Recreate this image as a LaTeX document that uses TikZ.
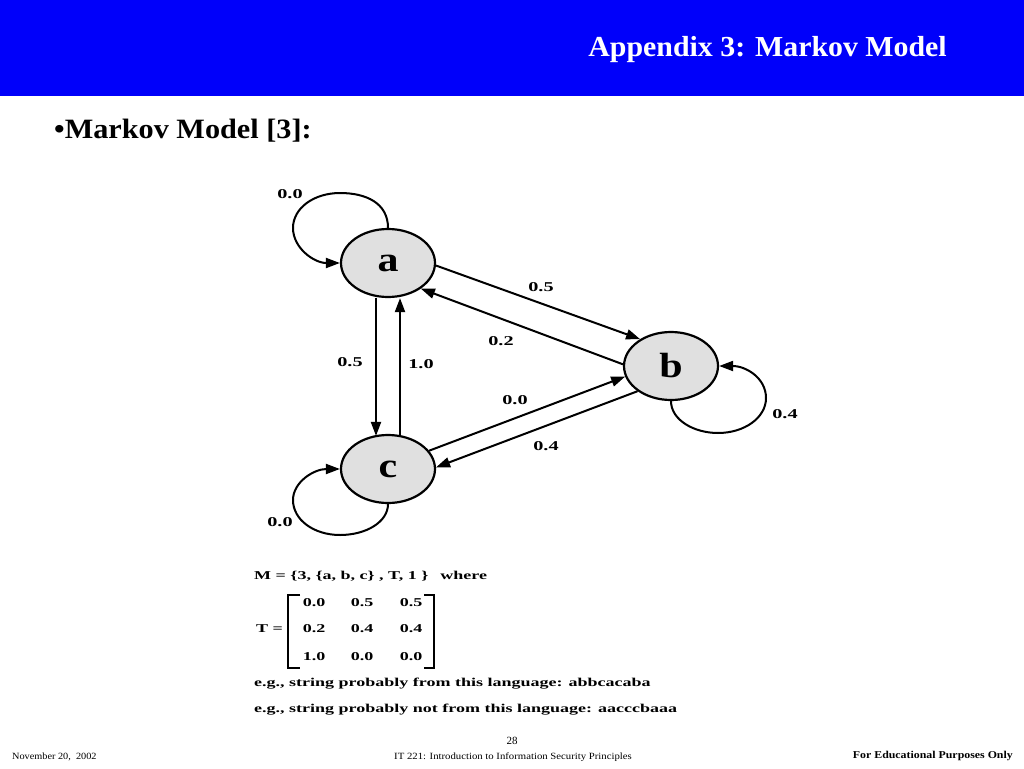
\documentclass[tikz,border=0pt]{standalone}
\usepackage{fontspec}
\usepackage{graphicx}
\setmainfont{Liberation Serif}
\usetikzlibrary{shapes.geometric,arrows.meta}
\definecolor{hdrblue}{RGB}{0,0,250}
\definecolor{nodegray}{RGB}{224,224,224}
\newcommand{\wide}[2]{\scalebox{#1}[1]{#2}}
\tikzset{
  state/.style={ellipse,draw,line width=2.2pt,fill=nodegray,minimum width=94pt,minimum height=68pt,inner sep=0pt,font=\fontsize{35}{35}\selectfont\bfseries},
  edge/.style={line width=2pt,-{Triangle[length=14pt,width=10pt]}},
  elabel/.style={font=\fontsize{13.5}{16}\selectfont\bfseries,inner sep=0pt},
  txt/.style={font=\fontsize{12}{14}\selectfont\bfseries,inner sep=0pt},
  foot/.style={font=\fontsize{9.5}{11}\selectfont,inner sep=0pt},
  brk/.style={line width=1.2pt}
}
\begin{document}
\begin{tikzpicture}[x=1pt,y=1pt]
\useasboundingbox (0,0) rectangle (1024,-768);
\fill[white] (0,0) rectangle (1024,-768);
\fill[hdrblue] (0,0) rectangle (1024,-96);
\node[text=white,font=\fontsize{29}{32}\selectfont\bfseries,anchor=east,inner sep=0pt] (title) at (947,-50) {\wide{1.03}{Appendix 3: Markov Model}};
\node[font=\fontsize{28}{32}\selectfont\bfseries,anchor=west,inner sep=0pt] (bul) at (54,-131) {\wide{1.08}{\textbullet Markov Model [3]:}};

\node[state] (a) at (388,-263) {\wide{1.2}{a}};
\node[state] (b) at (671,-366) {\wide{1.2}{b}};
\node[state] (c) at (388,-469) {\wide{1.2}{c}};

% self loops
\draw[edge] (a.north) .. controls (388,-203) and (366,-193) .. (340,-193)
  .. controls (314,-193) and (293,-208) .. (293,-228)
  .. controls (293,-248) and (314,-263) .. (a.west);
\draw[edge] (c.south) .. controls (388,-522) and (366,-535) .. (340,-535)
  .. controls (314,-535) and (293,-520) .. (293,-500)
  .. controls (293,-482) and (314,-469) .. (c.west);
\draw[edge] (b.south) .. controls (671,-420) and (694,-433) .. (718,-433)
  .. controls (744,-433) and (766,-418) .. (766,-398)
  .. controls (766,-378) and (746,-366) .. (b.east);

% edges
\draw[edge] ([xshift=-12pt]a.south) -- ([xshift=-12pt,yshift=-2pt]c.north);
\draw[edge] ([xshift=12pt,yshift=-2pt]c.north) -- ([xshift=12pt]a.south);
\draw[edge] (a.-3) -- (b.139);
\draw[edge] (b.178) -- (a.-38);
\draw[edge] (c.24) -- (b.193);
\draw[edge] (b.217) -- (c.2);

% edge labels
\node[elabel] (la) at (290,-194) {\wide{1.5}{0.0}};
\node[elabel] (lab) at (541,-287) {\wide{1.5}{0.5}};
\node[elabel] (lba) at (501,-341) {\wide{1.5}{0.2}};
\node[elabel] (lac) at (350,-362) {\wide{1.5}{0.5}};
\node[elabel] (lca) at (421,-364) {\wide{1.5}{1.0}};
\node[elabel] (lb) at (785,-414) {\wide{1.5}{0.4}};
\node[elabel] (lcb) at (515,-400) {\wide{1.5}{0.0}};
\node[elabel] (lbc) at (546,-446) {\wide{1.5}{0.4}};
\node[elabel] (lc) at (280,-522) {\wide{1.5}{0.0}};

% definition text
\node[txt,anchor=west] (m) at (254,-576) {\wide{1.5}{M = \{3, \{a, b, c\} , T, 1 \}\hspace{8pt}where}};
\node[txt,anchor=east] (teq) at (283,-629) {\wide{1.5}{T =}};
\draw[brk] (300,-595) -- (288,-595) -- (288,-668) -- (300,-668);
\draw[brk] (424,-595) -- (434,-595) -- (434,-668) -- (424,-668);
\node[txt] (t11) at (314,-603) {\wide{1.5}{0.0}};
\node[txt] (t12) at (362,-603) {\wide{1.5}{0.5}};
\node[txt] (t13) at (411,-603) {\wide{1.5}{0.5}};
\node[txt] (t21) at (314,-629) {\wide{1.5}{0.2}};
\node[txt] (t22) at (362,-629) {\wide{1.5}{0.4}};
\node[txt] (t23) at (411,-629) {\wide{1.5}{0.4}};
\node[txt] (t31) at (314,-657) {\wide{1.5}{1.0}};
\node[txt] (t32) at (362,-657) {\wide{1.5}{0.0}};
\node[txt] (t33) at (411,-657) {\wide{1.5}{0.0}};
\node[txt,anchor=west] (eg1) at (254,-684) {\wide{1.5}{e.g., string probably from this language: abbcacaba}};
\node[txt,anchor=west] (eg2) at (254,-710) {\wide{1.5}{e.g., string probably not from this language: aacccbaaa}};

% footer
\node[foot,font=\fontsize{11}{12}\selectfont] (pg) at (512,-741) {28};
\node[foot,anchor=west] (date) at (12,-757) {\wide{1.08}{November 20,\ \ 2002}};
\node[foot] (course) at (513,-757) {\wide{1.13}{IT 221: Introduction to Information Security Principles}};
\node[foot,anchor=east,font=\fontsize{10.5}{12}\selectfont\bfseries] (edu) at (1013,-756) {\wide{1.13}{For Educational Purposes Only}};
\end{tikzpicture}
\end{document}
